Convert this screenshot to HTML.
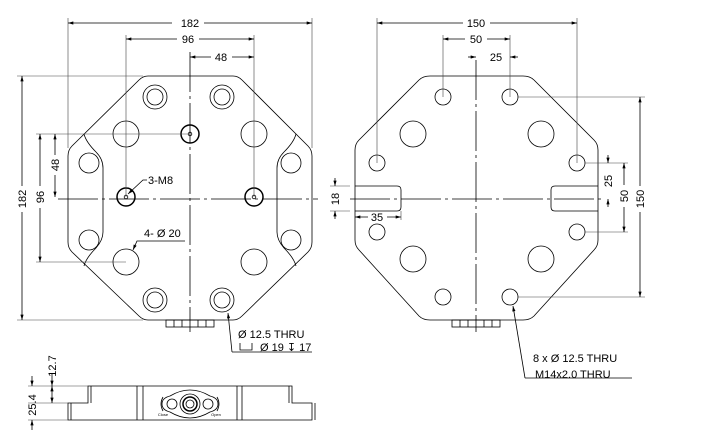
<!DOCTYPE html>
<html><head><meta charset="utf-8"><style>
html,body{margin:0;padding:0;background:#fff;}
svg{display:block;}
text{font-family:"Liberation Sans",sans-serif;font-size:11px;fill:#000;}
</style></head><body>
<svg width="712" height="443" viewBox="0 0 712 443" xmlns="http://www.w3.org/2000/svg">
<defs>
<marker id="a" viewBox="0 0 10 6" refX="10" refY="3" markerWidth="8" markerHeight="4" orient="auto-start-reverse"><path d="M0,0 L10,3 L0,6 z" fill="#000"/></marker>
</defs>
<g fill="none" stroke="#000" stroke-width="0.8">
<!-- LEFT PLATE -->
<path d="M148,76 L233,76 Q238,76 242,80 L308,146 Q312,150 312,156 L312,242 Q312,248 308,252 L242,316 Q238,320 233,320 L148,320 Q143,320 139,316 L72,252 Q68,248 68,242 L68,156 Q68,150 72,146 L139,80 Q143,76 148,76 Z"/>
<path d="M84,134 Q86,142 96,152 Q103,159 103,168 L103,232 Q103,240 96,248 Q86,258 84,266"/>
<path d="M296,134 Q294,142 284,152 Q277,159 277,168 L277,232 Q277,240 284,248 Q294,258 296,266"/>
<circle cx="155" cy="97" r="12"/><circle cx="155" cy="97" r="8"/>
<circle cx="222" cy="97" r="12"/><circle cx="222" cy="97" r="8"/>
<circle cx="155" cy="300" r="12"/><circle cx="155" cy="300" r="8"/>
<circle cx="222" cy="300" r="12"/><circle cx="222" cy="300" r="8"/>
<circle cx="126" cy="134" r="13"/><circle cx="254" cy="134" r="13"/>
<circle cx="126" cy="262" r="13"/><circle cx="254" cy="262" r="13"/>
<circle cx="89" cy="163" r="10"/><circle cx="291" cy="163" r="10"/>
<circle cx="89" cy="240" r="10"/><circle cx="291" cy="240" r="10"/>
<g stroke-width="1.5"><circle cx="190" cy="134" r="9"/><circle cx="126" cy="197" r="9"/><circle cx="254" cy="197" r="9"/></g>
<circle cx="190" cy="134" r="1.8"/><circle cx="126" cy="197" r="1.8"/><circle cx="254" cy="197" r="1.8"/>
<rect x="166" y="320" width="48" height="7"/>
<path d="M174,320v7M182,320v7M198,320v7M206,320v7"/>
<!-- centerlines -->
<path d="M58,199 H318" stroke-dasharray="40,4,3,4"/>
<path d="M190,52 V332" stroke-dasharray="40,4,3,4"/>
<!-- dims left -->
<path d="M68,18 V148 M312,18 V148 M126,35 V197 M254,35 V197" stroke="#444" stroke-width="0.6"/>
<path d="M68,23 H172 M204,23 H312" marker-start="url(#a)" marker-end="url(#a)"/>
<path d="M126,39 H177 M199,39 H254" marker-start="url(#a)" marker-end="url(#a)"/>
<path d="M190,57 H211 M232,57 H254" marker-start="url(#a)" marker-end="url(#a)"/>
<path d="M17,76 H143 M17,320 H143 M36,134 H190 M36,262 H126" stroke="#444" stroke-width="0.6"/>
<path d="M22,76 V186 M22,212 V320" marker-start="url(#a)" marker-end="url(#a)"/>
<path d="M40,134 V186 M40,208 V262" marker-start="url(#a)" marker-end="url(#a)"/>
<path d="M55,134 V155 M55,175 V197" marker-start="url(#a)" marker-end="url(#a)"/>
<path d="M147,180 L143,180 L128,194" marker-end="url(#a)"/>
<path d="M185,241 L137,241 L133,250" marker-end="url(#a)"/>
<path d="M232,352 L228,313" marker-end="url(#a)"/>
<path d="M232,352 H312"/>
<path d="M240,343 V350 H252 V343"/>
<!-- RIGHT PLATE -->
<path d="M430,76 L523,76 Q530,76 534,80 L594,140 Q598,144 598,150 L598,240 Q598,246 594,250 L534,316 Q530,320 523,320 L430,320 Q423,320 419,316 L359,250 Q355,246 355,240 L355,150 Q355,144 359,140 L419,80 Q423,76 430,76 Z"/>
<path d="M355,186 H397 Q401,186 401,190 V207 Q401,211 397,211 H355"/>
<path d="M598,186 H555 Q551,186 551,190 V207 Q551,211 555,211 H598"/>
<circle cx="443" cy="97" r="8"/><circle cx="510" cy="97" r="8"/>
<circle cx="377" cy="163" r="8"/><circle cx="577" cy="163" r="8"/>
<circle cx="377" cy="232" r="8"/><circle cx="577" cy="232" r="8"/>
<circle cx="443" cy="297" r="8"/><circle cx="510" cy="297" r="8"/>
<circle cx="413" cy="134" r="13"/><circle cx="541" cy="134" r="13"/>
<circle cx="413" cy="259" r="13"/><circle cx="541" cy="259" r="13"/>
<rect x="452" y="320" width="48" height="7"/>
<path d="M460,320v7M468,320v7M484,320v7M492,320v7"/>
<path d="M350,199 H604" stroke-dasharray="40,4,3,4"/>
<path d="M476,60 V332" stroke-dasharray="40,4,3,4"/>
<path d="M377,18 V163 M577,18 V163 M443,35 V97 M510,35 V97" stroke="#444" stroke-width="0.6"/>
<path d="M377,23 H463 M490,23 H577" marker-start="url(#a)" marker-end="url(#a)"/>
<path d="M443,39 H465 M487,39 H510" marker-start="url(#a)" marker-end="url(#a)"/>
<path d="M468,57 H476" marker-end="url(#a)"/><path d="M518,57 H510" marker-end="url(#a)"/>
<path d="M518,97 H645 M518,297 H645 M585,163 H628 M585,232 H628" stroke="#444" stroke-width="0.6"/>
<path d="M640,97 V186 M640,212 V297" marker-start="url(#a)" marker-end="url(#a)"/>
<path d="M624,163 V185 M624,207 V232" marker-start="url(#a)" marker-end="url(#a)"/>
<path d="M608,155 V163" marker-end="url(#a)"/><path d="M608,207 V199" marker-end="url(#a)"/>
<path d="M335,178 V186" marker-end="url(#a)"/><path d="M335,219 V211" marker-end="url(#a)"/>
<path d="M330,186 H350 M330,211 H350" stroke="#444" stroke-width="0.6"/>
<path d="M355,217 H368 M387,217 H401" marker-start="url(#a)" marker-end="url(#a)"/>
<path d="M401,211 V220" stroke="#444" stroke-width="0.6"/>
<path d="M525,378 L513,306" marker-end="url(#a)"/>
<path d="M525,378 H632"/>
<!-- SIDE VIEW -->
<path d="M88,386 H292 V403 H312 V420 H68 V403 H88 Z"/>
<path d="M91,386 V403 M289,386 V403 M315,403 V420 M71,403 V420"/>
<path d="M137,386 V420 M143,386 V420 M237,386 V420 M242,386 V420"/>
<path d="M170,396 Q180,390 190,390 Q200,390 210,396 Q218,398 218,404 Q218,410 210,412 Q200,418 190,418 Q180,418 170,412 Q162,410 162,404 Q162,398 170,396 Z"/>
<circle cx="190" cy="404" r="10"/><circle cx="190" cy="404" r="7" stroke-width="1.5"/><circle cx="190" cy="404" r="4"/>
<circle cx="172" cy="404" r="5"/><circle cx="208" cy="404" r="5"/>
<path d="M163,397 Q159,404 163,411 M217,397 Q221,404 217,411"/>
<path d="M28,386 H88 M28,403 H68 M28,420 H68" stroke="#444" stroke-width="0.6"/>
<path d="M52,374 V386" marker-end="url(#a)"/><path d="M52,386 V403" marker-start="url(#a)" marker-end="url(#a)"/>
<path d="M32,376 V386" marker-end="url(#a)"/><path d="M32,430 V420" marker-end="url(#a)"/>
</g>
<!-- texts -->
<text x="190" y="27" text-anchor="middle">182</text>
<text x="188" y="43" text-anchor="middle">96</text>
<text x="221" y="61" text-anchor="middle">48</text>
<text transform="translate(26,199) rotate(-90)" text-anchor="middle">182</text>
<text transform="translate(44,197) rotate(-90)" text-anchor="middle">96</text>
<text transform="translate(59,165) rotate(-90)" text-anchor="middle">48</text>
<text x="148" y="184">3-M8</text>
<text x="144" y="237">4- Ø 20</text>
<text x="238" y="338">Ø 12.5 THRU</text>
<text x="260" y="351">Ø 19 ↧ 17</text>
<text x="476" y="27" text-anchor="middle">150</text>
<text x="476" y="43" text-anchor="middle">50</text>
<text x="496" y="61" text-anchor="middle">25</text>
<text transform="translate(644,199) rotate(-90)" text-anchor="middle">150</text>
<text transform="translate(628,196) rotate(-90)" text-anchor="middle">50</text>
<text transform="translate(612,181) rotate(-90)" text-anchor="middle">25</text>
<text transform="translate(339,199) rotate(-90)" text-anchor="middle">18</text>
<text x="377" y="221" text-anchor="middle">35</text>
<text x="533" y="362">8 x Ø 12.5 THRU</text>
<text x="535" y="378">M14x2.0 THRU</text>
<text transform="translate(56,366) rotate(-90)" text-anchor="middle">12.7</text>
<text transform="translate(36,405) rotate(-90)" text-anchor="middle">25.4</text>
<text x="163" y="416" text-anchor="middle" style="font-size:4px">Close</text>
<text x="216" y="416" text-anchor="middle" style="font-size:4px">Open</text>
</svg>
</body></html>
